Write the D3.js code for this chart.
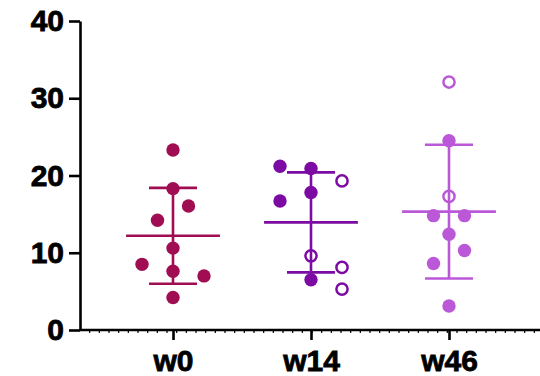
<!DOCTYPE html>
<html>
<head>
<meta charset="utf-8">
<script src="https://cdn.jsdelivr.net/npm/d3@7"></script>
<style>
    html, body { margin: 0; padding: 0; background: #fff; }
    svg text { font-family: 'Liberation Sans', Arial, sans-serif; font-weight: bold; }
</style>
</head>
<body>
<div id="chart"></div>
<script>
const groups = ['w0', 'w14', 'w46']
const yTicks = [0, 10, 20, 30, 40]

// values (entry order), open = hollow marker
const w0Values = [23.3, 18.3, 16.05, 14.2, 10.6, 7.6, 7.0, 8.5, 4.2]
const w0Open = [false, false, false, false, false, false, false, false, false]
const w14Values = [20.9, 19.3, 21.2, 17.8, 16.7, 9.6, 8.1, 6.5, 5.3]
const w14Open = [false, true, false, false, false, true, true, false, true]
const w46Values = [32.1, 24.5, 17.3, 14.8, 14.8, 12.4, 10.3, 8.6, 3.1]
const w46Open = [true, false, true, false, false, false, false, false, false]

const colors = { w0: '#a10d52', w14: '#7b0ba3', w46: '#bb58d8' }

const series = [
    { name: 'w0', values: w0Values, open: w0Open },
    { name: 'w14', values: w14Values, open: w14Open },
    { name: 'w46', values: w46Values, open: w46Open }
]

const width = 540, height = 376
const margin = { top: 21, right: -2, bottom: 46, left: 80 }

const svg = d3.select('#chart').append('svg')
    .attr('width', width).attr('height', height)

const x = d3.scalePoint()
    .domain(groups)
    .range([margin.left, width - margin.right])
    .padding(0.674)

const y = d3.scaleLinear()
    .domain([0, 40])
    .range([height - margin.bottom, margin.top])

const y0 = y(0)

// simple beeswarm: place each point at the nearest free lane
const dotR = 6.7
const laneStep = 15.5
const minDist = 21.1
function swarm(values) {
    const placed = []
    return values.map(v => {
        const py = y(v)
        const lanes = [0]
        for (let k = 1; k <= 4; k++) lanes.push(k, -k)
        for (const l of lanes) {
            const px = l * laneStep
            const hit = placed.some(p => Math.hypot(p.dx - px, p.py - py) < minDist)
            if (!hit) {
                placed.push({ dx: px, py })
                return px
            }
        }
        return 0
    })
}

// mean and SD bars
series.forEach(s => {
    const cx = x(s.name)
    const m = d3.mean(s.values)
    const sd = d3.deviation(s.values)
    const c = colors[s.name]
    const g = svg.append('g').attr('stroke', c).attr('stroke-width', 2.6)
    g.append('line')
        .attr('x1', cx).attr('x2', cx)
        .attr('y1', y(m + sd)).attr('y2', y(m - sd))
    ;[m + sd, m - sd].forEach(v => {
        g.append('line')
            .attr('x1', cx - x.step() * 0.174).attr('x2', cx + x.step() * 0.174)
            .attr('y1', y(v)).attr('y2', y(v))
    })
    g.append('line')
        .attr('x1', cx - x.step() * 0.34).attr('x2', cx + x.step() * 0.34)
        .attr('y1', y(m)).attr('y2', y(m))
})

// dots
series.forEach(s => {
    const cx = x(s.name)
    const offsets = swarm(s.values)
    const c = colors[s.name]
    svg.append('g').selectAll('circle')
        .data(s.values.map((v, i) => ({ v, dx: offsets[i], open: s.open[i] })))
        .enter().append('circle')
        .attr('cx', d => cx + d.dx)
        .attr('cy', d => y(d.v))
        .attr('r', d => d.open ? 5.6 : dotR)
        .attr('fill', d => d.open ? 'none' : c)
        .attr('stroke', d => d.open ? c : 'none')
        .attr('stroke-width', 2.5)
})

// minor ticks along the x axis
const xMinor = d3.scaleLinear().domain([0, 48]).range([margin.left, width - margin.right + 2])
svg.append('g').selectAll('line')
    .data(d3.range(1, 49)).enter()
    .append('line')
    .attr('x1', d => xMinor(d)).attr('x2', d => xMinor(d))
    .attr('y1', y0).attr('y2', y0 + 3)
    .attr('stroke', '#000').attr('stroke-width', 1.2)

function styleLabels(sel) {
    sel.attr('fill', '#000').attr('font-size', '30px')
        .attr('font-family', "'Liberation Sans', Arial, sans-serif").attr('font-weight', 'bold')
        .attr('stroke', '#000').attr('stroke-width', 0.8)
}

// x axis
const xAxis = svg.append('g')
    .attr('transform', `translate(0,${y0})`)
    .call(d3.axisBottom(x).tickSize(10).tickSizeOuter(0).tickPadding(10))
xAxis.select('.domain').attr('stroke', '#000').attr('stroke-width', 2.6)
    .attr('d', `M${margin.left},0H${width}`)
xAxis.selectAll('.tick line').attr('stroke', '#000').attr('stroke-width', 2.6)
xAxis.selectAll('.tick text').call(styleLabels).attr('dy', '0.71em')

// y axis
const yAxis = svg.append('g')
    .attr('transform', `translate(${margin.left},0)`)
    .call(d3.axisLeft(y).tickValues(yTicks).tickSize(11).tickSizeOuter(0).tickPadding(5))
yAxis.select('.domain').attr('stroke', '#000').attr('stroke-width', 2.6)
yAxis.selectAll('.tick line').attr('stroke', '#000').attr('stroke-width', 2.6)
yAxis.selectAll('.tick text').call(styleLabels)
</script>
</body>
</html>
